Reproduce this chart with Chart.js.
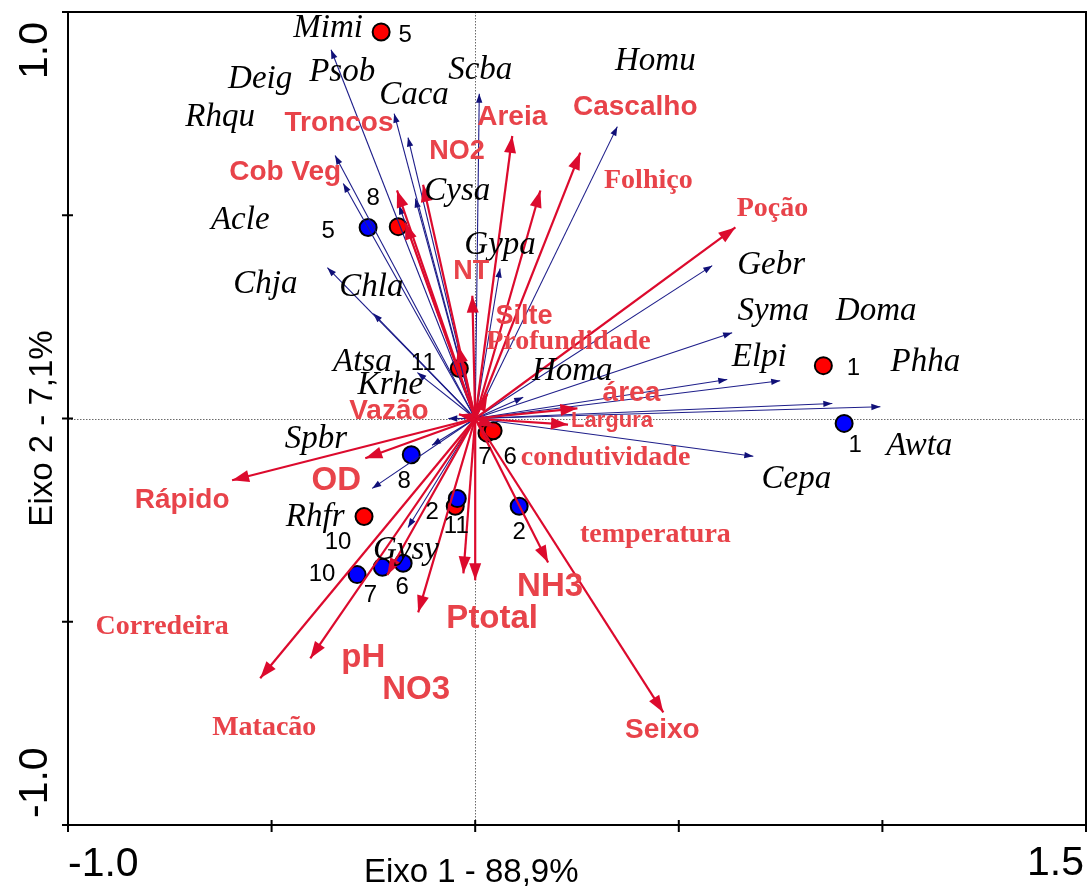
<!DOCTYPE html>
<html>
<head>
<meta charset="utf-8">
<script src="https://cdn.jsdelivr.net/npm/chart.js@4/dist/chart.umd.min.js"></script>
<style>
  html, body { margin: 0; padding: 0; background: #ffffff; }
  canvas { display: block; }
</style>
</head>
<body>
<canvas id="cca" width="1089" height="886"></canvas>
<script>
// ---- Species scores (CCA axis 1, axis 2) ----
const speciesNames = ['Mimi', 'Psob', 'Caca', 'Deig', 'Acle', 'Rhqu', 'Cysa', 'Scba', 'Gypa', 'Homu',
  'Chja', 'Chla', 'Atsa', 'Krhe', 'Homa', 'Gebr', 'Syma', 'Elpi', 'Doma', 'Awta', 'Phha', 'Cepa',
  'Spbr', 'Rhfr', 'Gysy'];
const speciesAxis1 = [-0.354, -0.199, -0.165, -0.344, -0.324, -0.187, -0.147, 0.010, 0.061, 0.349,
  -0.363, -0.250, -0.142, -0.066, 0.118, 0.582, 0.631, 0.619, 0.749, 0.877, 0.995, 0.683,
  -0.106, -0.253, -0.165];
const speciesAxis2 = [0.907, 0.750, 0.691, 0.647, 0.578, 0.524, 0.541, 0.799, 0.369, 0.718,
  0.371, 0.258, 0.113, 0.000, 0.052, 0.376, 0.211, 0.096, 0.093, 0.037, 0.029, -0.093,
  -0.066, -0.172, -0.268];

// ---- Environmental variables (biplot scores) ----
const envNames = ['Rápido', 'OD', 'Corredeira', 'Matacão', 'pH', 'NO3', 'temperatura', 'Ptotal', 'NH3',
  'Seixo', 'Largura', 'área', 'Poção', 'Cascalho', 'Folhiço', 'Areia', 'Troncos', 'NO2', 'Cob Veg',
  'NT', 'Silte', 'Vazão', 'Profundidade', 'condutividade'];
const envAxis1 = [-0.597, -0.270, -0.528, -0.405, -0.216, -0.140, -0.029, 0.000, 0.179,
  0.462, 0.228, 0.251, 0.639, 0.258, 0.160, 0.091, -0.192, -0.128, -0.172,
  -0.007, -0.042, -0.040, 0.030, 0.050];
const envAxis2 = [-0.152, -0.098, -0.639, -0.590, -0.385, -0.477, -0.381, -0.398, -0.354,
  -0.723, -0.015, 0.025, 0.470, 0.654, 0.561, 0.695, 0.561, 0.575, 0.482,
  0.302, 0.179, 0.010, 0.060, -0.020];

// ---- Sites: two sampling campaigns (red and blue) ----
const redSiteIds = ['5', '8', '11', '1', '7', '6', '10', '2'];
const redAxis1 = [-0.231, -0.189, -0.039, 0.855, 0.029, 0.044, -0.273, -0.049];
const redAxis2 = [0.951, 0.472, 0.123, 0.130, -0.036, -0.030, -0.241, -0.216];
const blueSiteIds = ['5', '1', '8', '11', '2', '10', '7', '6'];
const blueAxis1 = [-0.263, 0.906, -0.157, -0.044, 0.108, -0.290, -0.228, -0.177];
const blueAxis2 = [0.470, -0.012, -0.089, -0.197, -0.216, -0.384, -0.366, -0.356];

// ---- Axes ----
const xTickValues = [-1, -0.5, 0, 0.5, 1, 1.5];
const yTickValues = [-1, -0.5, 0, 0.5, 1];
const xTickLabels = ['-1.0', '1.5'];
const yTickLabels = ['1.0', '-1.0'];
const xTitle = 'Eixo 1 - 88,9%';
const yTitle = 'Eixo 2 - 7,1%';

// ---- Presentation: colours, fonts, label offsets (px from the mark) ----
const NAVY = '#1e1e8a';
const RED_ARROW = '#dc0a2d';
const RED_TEXT = '#e8434a';
const SERIF = '"Liberation Serif", "Times New Roman", serif';
const SANS = '"Liberation Sans", Arial, sans-serif';

const speciesLabelOffset = {
  Mimi: [-3, -21], Psob: [-52, -41], Caca: [6, -42], Deig: [-75, -76], Acle: [-103, 37],
  Rhqu: [-179, -88], Cysa: [42, -7], Scba: [1, -23], Gypa: [0, -23], Homu: [38, -65],
  Chja: [-62, 17], Chla: [-2, -26], Atsa: [-55, -10], Krhe: [-58, -33], Homa: [49, -26],
  Gebr: [59, 0], Syma: [41, -21], Elpi: [32, -22], Doma: [96, -69], Awta: [87, 43],
  Phha: [45, -44], Cepa: [43, 23], Spbr: [-116, -6], Rhfr: [-57, 29], Gysy: [-2, 23]
};
const envLabelOffset = {
  'Rápido': [-50, 20], 'OD': [-29, 23], 'Corredeira': [-98, -51], 'Matacão': [-46, 69],
  'pH': [-24, 83], 'NO3': [-2, 78], 'temperatura': [192, -39], 'Ptotal': [17, 39],
  'NH3': [2, 25], 'Seixo': [-1, 18], 'Largura': [44, -4], 'área': [54, -15],
  'Poção': [37, -19], 'Cascalho': [55, -45], 'Folhiço': [108, -10], 'Areia': [0, -19],
  'Troncos': [-58, -67], 'NO2': [34, -33], 'Cob Veg': [-120, -50], 'NT': [-1, -24],
  'Silte': [66, -29], 'Vazão': [-70, -3], 'Profundidade': [81, -52], 'condutividade': [110, 31]
};
const envLabelFont = {
  'OD': 'bold 33px ' + SANS, 'NH3': 'bold 33px ' + SANS, 'Ptotal': 'bold 33px ' + SANS,
  'pH': 'bold 33px ' + SANS, 'NO3': 'bold 33px ' + SANS,
  'NO2': 'bold 27px ' + SANS, 'NT': 'bold 27px ' + SANS, 'Silte': 'bold 27px ' + SANS,
  'Largura': 'bold 22px ' + SANS,
  'Folhiço': 'bold 28px ' + SERIF, 'Poção': 'bold 28px ' + SERIF,
  'Profundidade': 'bold 28px ' + SERIF, 'condutividade': 'bold 28px ' + SERIF,
  'temperatura': 'bold 28px ' + SERIF, 'Corredeira': 'bold 28px ' + SERIF,
  'Matacão': 'bold 28px ' + SERIF
};
const envDefaultFont = 'bold 28px ' + SANS;
const redSiteLabelOffset = [[24, 3], [-25, -28], [-36, -5], [30, 3], [-2, 24], [17, 27], [-26, 26], [-23, 6]];
const blueSiteLabelOffset = [[-40, 4], [11, 22], [-7, 27], [-1, 28], [0, 26], [-35, 0], [-12, 28], [-1, 24]];

// ---- Datasets ----
function arrowDataset(x, y, color, width, head, order) {
  return {
    data: [{ x: 0, y: 0 }, { x: x, y: y }],
    showLine: true,
    borderColor: color,
    borderWidth: width,
    pointRadius: 0,
    pointHoverRadius: 0,
    tension: 0,
    order: order,
    arrowHead: head
  };
}

const datasets = [];
datasets.push({
  label: 'sites (red)',
  data: redAxis1.map(function (v, i) { return { x: v, y: redAxis2[i] }; }),
  pointRadius: 8.5, pointHoverRadius: 8.5,
  pointBackgroundColor: '#ff0000', pointBorderColor: '#000000', pointBorderWidth: 2,
  showLine: false, order: 4, siteIds: redSiteIds, siteOffsets: redSiteLabelOffset
});
datasets.push({
  label: 'sites (blue)',
  data: blueAxis1.map(function (v, i) { return { x: v, y: blueAxis2[i] }; }),
  pointRadius: 8.5, pointHoverRadius: 8.5,
  pointBackgroundColor: '#0000ff', pointBorderColor: '#000000', pointBorderWidth: 2,
  showLine: false, order: 3, siteIds: blueSiteIds, siteOffsets: blueSiteLabelOffset
});
speciesNames.forEach(function (name, i) {
  const ds = arrowDataset(speciesAxis1[i], speciesAxis2[i], NAVY, 1.1,
    { len: 9, half: 3.2, color: '#101078' }, 2);
  ds.label = name; ds.kind = 'species';
  datasets.push(ds);
});
envNames.forEach(function (name, i) {
  const ds = arrowDataset(envAxis1[i], envAxis2[i], RED_ARROW, 2.2,
    { len: 17, half: 6, color: RED_ARROW }, 1);
  ds.label = name; ds.kind = 'env';
  datasets.push(ds);
});

// ---- Plugins: frame, zero lines, arrowheads and text ----
const framePlugin = {
  id: 'frame',
  beforeDatasetsDraw(chart) {
    const ctx = chart.ctx, a = chart.chartArea;
    const xs = chart.scales.x, ys = chart.scales.y;
    ctx.save();
    // dotted zero lines
    ctx.strokeStyle = '#6a6a6a';
    ctx.lineWidth = 1;
    ctx.setLineDash([1.5, 1.5]);
    const x0 = Math.round(xs.getPixelForValue(0)) + 0.5;
    const y0 = Math.round(ys.getPixelForValue(0)) + 0.5;
    ctx.beginPath();
    ctx.moveTo(x0, a.top); ctx.lineTo(x0, a.bottom);
    ctx.moveTo(a.left, y0); ctx.lineTo(a.right, y0);
    ctx.stroke();
    ctx.restore();
  },
  afterDatasetDraw(chart, args) {
    const ds = chart.data.datasets[args.index];
    if (!ds.arrowHead) return;
    const pts = args.meta.data;
    const p0 = pts[0], p1 = pts[1];
    const ang = Math.atan2(p1.y - p0.y, p1.x - p0.x);
    const h = ds.arrowHead;
    const ctx = chart.ctx;
    ctx.save();
    ctx.fillStyle = h.color;
    ctx.beginPath();
    ctx.moveTo(p1.x, p1.y);
    ctx.lineTo(p1.x - h.len * Math.cos(ang) + h.half * Math.sin(ang),
               p1.y - h.len * Math.sin(ang) - h.half * Math.cos(ang));
    ctx.lineTo(p1.x - h.len * Math.cos(ang) - h.half * Math.sin(ang),
               p1.y - h.len * Math.sin(ang) + h.half * Math.cos(ang));
    ctx.closePath();
    ctx.fill();
    ctx.restore();
  },
  afterDatasetsDraw(chart) {
    const ctx = chart.ctx, a = chart.chartArea;
    const xs = chart.scales.x, ys = chart.scales.y;
    ctx.save();
    // frame
    ctx.strokeStyle = '#000000';
    ctx.lineWidth = 2;
    ctx.strokeRect(a.left, a.top, a.right - a.left, a.bottom - a.top);
    // tick marks
    ctx.beginPath();
    xTickValues.forEach(function (v) {
      const px = xs.getPixelForValue(v);
      ctx.moveTo(px, a.bottom - 5); ctx.lineTo(px, a.bottom + 7);
    });
    yTickValues.forEach(function (v) {
      const py = ys.getPixelForValue(v);
      ctx.moveTo(a.left - 6, py); ctx.lineTo(a.left + 5, py);
    });
    ctx.stroke();

    // text labels
    ctx.textBaseline = 'middle';
    ctx.textAlign = 'center';
    // species
    ctx.fillStyle = '#000000';
    ctx.font = 'italic 33px ' + SERIF;
    speciesNames.forEach(function (name, i) {
      const o = speciesLabelOffset[name];
      ctx.fillText(name, xs.getPixelForValue(speciesAxis1[i]) + o[0], ys.getPixelForValue(speciesAxis2[i]) + o[1]);
    });
    // environmental variables
    ctx.fillStyle = RED_TEXT;
    envNames.forEach(function (name, i) {
      const o = envLabelOffset[name];
      ctx.font = envLabelFont[name] || envDefaultFont;
      ctx.fillText(name, xs.getPixelForValue(envAxis1[i]) + o[0], ys.getPixelForValue(envAxis2[i]) + o[1]);
    });
    // site numbers
    ctx.fillStyle = '#000000';
    ctx.font = '24px ' + SANS;
    chart.data.datasets.forEach(function (ds) {
      if (!ds.siteIds) return;
      ds.data.forEach(function (p, i) {
        const o = ds.siteOffsets[i];
        ctx.fillText(ds.siteIds[i], xs.getPixelForValue(p.x) + o[0], ys.getPixelForValue(p.y) + o[1]);
      });
    });

    // axis tick labels
    ctx.textBaseline = 'alphabetic';
    ctx.font = '41px ' + SANS;
    ctx.textAlign = 'left';
    ctx.fillText(xTickLabels[0], xs.getPixelForValue(-1), 876);
    ctx.textAlign = 'right';
    ctx.fillText(xTickLabels[1], xs.getPixelForValue(1.5) - 2, 875);

    ctx.save();
    ctx.translate(47, ys.getPixelForValue(1) + 10);
    ctx.rotate(-Math.PI / 2);
    ctx.textAlign = 'right';
    ctx.fillText(yTickLabels[0], 0, 0);
    ctx.restore();
    ctx.save();
    ctx.translate(47, ys.getPixelForValue(-1) - 7);
    ctx.rotate(-Math.PI / 2);
    ctx.textAlign = 'left';
    ctx.fillText(yTickLabels[1], 0, 0);
    ctx.restore();

    // axis titles
    ctx.font = '33px ' + SANS;
    ctx.textAlign = 'center';
    ctx.fillText(xTitle, xs.getPixelForValue(0) - 4, 882);
    ctx.save();
    ctx.translate(52, ys.getPixelForValue(0) + 10);
    ctx.rotate(-Math.PI / 2);
    ctx.fillText(yTitle, 0, 0);
    ctx.restore();

    ctx.restore();
  }
};

new Chart(document.getElementById('cca'), {
  type: 'scatter',
  data: { datasets: datasets },
  options: {
    responsive: false,
    animation: false,
    devicePixelRatio: 1,
    layout: { autoPadding: false, padding: { left: 68, right: 3, top: 12, bottom: 61 } },
    plugins: { legend: { display: false }, tooltip: { enabled: false } },
    events: [],
    scales: {
      x: { type: 'linear', min: -1, max: 1.5, display: false },
      y: { type: 'linear', min: -1, max: 1, display: false }
    }
  },
  plugins: [framePlugin]
});
</script>
</body>
</html>
